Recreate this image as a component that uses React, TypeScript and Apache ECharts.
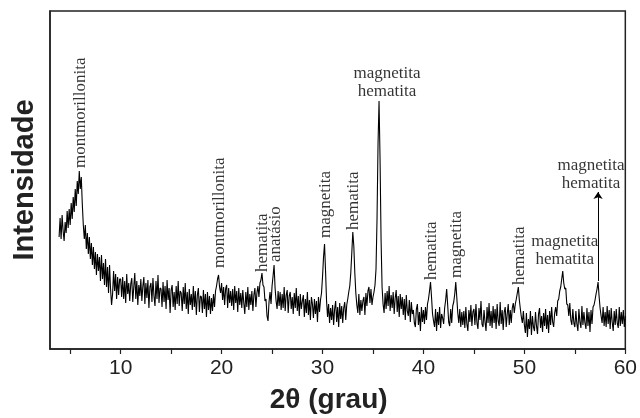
import React, { useEffect, useRef } from "react";
import * as echarts from "echarts";

// Sampling step of the diffractogram (degrees 2θ)
const STEP = 0.1;

// Intensity (arbitrary units), one array per decade
const start04 = 3.9;
const intensity04 = [
  112, 131, 110, 134, 118, 108, 127, 116, 138, 121,
  140, 124, 146, 130, 152, 137, 160, 143, 168, 155,
  178, 160, 172, 145, 124, 110, 124, 100, 116, 95,
  112, 90, 106, 84, 102, 80, 97, 74, 95, 78,
  92, 68, 94, 70, 86, 64, 90, 62, 82, 56,
  84, 60, 44, 55, 78, 58, 75, 50, 72, 54,
  70,
];
const start10 = 10;
const intensity10 = [
  70, 52, 72, 50, 68, 46, 75, 55, 66, 48,
  65, 71, 47, 62, 76, 50, 68, 44, 64, 53,
  70, 48, 63, 72, 45, 66, 51, 69, 41, 62,
  66, 47, 71, 53, 43, 68, 50, 74, 46, 61,
  60, 42, 67, 47, 63, 40, 69, 49, 61, 36,
  59, 64, 42, 57, 39, 63, 45, 68, 43, 58,
  56, 38, 62, 45, 66, 40, 57, 35, 60, 44,
  55, 39, 63, 42, 58, 34, 54, 61, 37, 53,
  52, 36, 59, 40, 55, 32, 57, 39, 53, 35,
  51, 38, 55, 42, 58, 63, 70, 74, 62, 56,
];
const start20 = 20;
const intensity20 = [
  66, 49, 62, 44, 60, 64, 41, 61, 46, 58,
  43, 60, 39, 63, 46, 58, 37, 61, 44, 56,
  41, 59, 46, 35, 57, 42, 62, 39, 55, 44,
  58, 38, 54, 61, 42, 56, 63, 52, 66, 69,
  76, 64, 62, 48, 50, 33, 28, 47, 57, 45,
  63, 73, 84, 61, 48, 40, 58, 43, 57, 39,
  55, 41, 62, 38, 54, 59, 36, 53, 57, 40,
  52, 35, 56, 41, 61, 38, 53, 33, 55, 40,
  48, 54, 32, 50, 36, 57, 34, 49, 29, 52,
  45, 31, 50, 35, 48, 27, 52, 37, 49, 56,
];
const start30 = 30;
const intensity30 = [
  72, 92, 105, 78, 48, 32, 45, 26, 41, 29,
  44, 24, 40, 48, 27, 42, 22, 46, 30, 43,
  26, 41, 47, 29, 44, 50, 57, 63, 76, 96,
  117, 103, 76, 56, 44, 36, 55, 34, 49, 38,
  48, 52, 34, 56, 43, 58, 62, 46, 60, 44,
  52, 57, 64, 80, 130, 205, 248, 190, 110, 62,
  45, 36, 56, 40, 58, 43, 63, 38, 54, 41,
  57, 35, 51, 59, 37, 53, 32, 55, 40, 52,
  34, 50, 29, 54, 38, 33, 49, 27, 47, 35,
  39, 26, 22, 40, 45, 24, 37, 18, 42, 27,
];
const start40 = 40;
const intensity40 = [
  39, 25, 42, 29, 45, 50, 58, 67, 52, 35,
  28, 22, 40, 18, 37, 24, 42, 21, 35, 31,
  25, 41, 49, 60, 44, 27, 23, 40, 26, 43,
  47, 55, 67, 52, 36, 26, 40, 22, 37, 24,
  38, 21, 42, 25, 18, 39, 27, 44, 23, 37,
  40, 24, 45, 26, 20, 41, 29, 48, 25, 22,
  39, 27, 18, 42, 26, 46, 23, 38, 21, 43,
  26, 40, 20, 45, 28, 23, 47, 25, 39, 19,
  37, 42, 22, 35, 45, 24, 39, 26, 41, 46,
  36, 45, 50, 56, 62, 49, 40, 32, 26, 38,
];
const start50 = 50;
const intensity50 = [
  24, 16, 36, 12, 30, 20, 38, 14, 33, 22,
  18, 37, 23, 15, 35, 41, 21, 33, 17, 36,
  23, 40, 20, 34, 16, 38, 24, 42, 27, 22,
  36, 42, 33, 48, 50, 58, 62, 70, 78, 66,
  60, 61, 45, 44, 33, 46, 29, 24, 40, 26,
  22, 38, 25, 18, 40, 27, 21, 43, 24, 37,
  26, 20, 41, 23, 37, 17, 39, 25, 42, 44,
  49, 55, 60, 67, 53, 41, 33, 26, 42, 23,
  37, 22, 43, 25, 39, 20, 41, 27, 18, 38,
  24, 40, 26, 21, 42, 23, 37, 25, 39, 22,
  33,
];

// Axis ticks and labels
const xTicks = [5, 10, 15, 20, 25, 30, 35, 40, 45, 50, 55, 60];
const xLabels = [10, 20, 30, 40, 50, 60];

// Phase annotations: position (2θ), intensity where the text starts, text, vertical?
const annotationX = [5.9, 19.7, 24.0, 25.2, 30.2, 33.0, 40.7, 43.2, 49.4, 35.6, 53.8, 57.3];
const annotationY = [181, 81, 77, 87, 111, 119, 69, 71, 64, 250, 82, 158];
const annotationText = [
  "montmorillonita",
  "montmorillonita",
  "hematita",
  "anatásio",
  "magnetita",
  "hematita",
  "hematita",
  "magnetita",
  "hematita",
  "magnetita\nhematita",
  "magnetita\nhematita",
  "magnetita\nhematita",
];
const annotationVertical = [true, true, true, true, true, true, true, true, true, false, false, false];
const annotationShift = [0, 0, 0, 0, 0, 0, 0, 0, 0, 8, 2, -7];

// Arrow from the 57.3° peak up to its label
const arrowX = 57.3;
const arrowFrom = 68;
const arrowTo = 157;

export default function App() {
  const ref = useRef<HTMLDivElement>(null);
  useEffect(() => {
    const chart = echarts.init(ref.current!, null, { renderer: "svg" });
    const segments: [number, number[]][] = [
      [start04, intensity04],
      [start10, intensity10],
      [start20, intensity20],
      [start30, intensity30],
      [start40, intensity40],
      [start50, intensity50],
    ];
    const data: number[][] = [];
    segments.forEach(([s, arr]) =>
      arr.forEach((v, i) => data.push([Math.round((s + i * STEP) * 10) / 10, v]))
    );
    const axisColor = "#222";
    const sans = "'Liberation Sans', Arial, Helvetica, sans-serif";
    const serif = "'Liberation Serif', 'Times New Roman', serif";
    const annData = annotationX.map((x, i) => ({
      value: [x, annotationY[i]],
      name: annotationText[i],
      label: annotationVertical[i]
        ? { position: [0, 0], rotate: 90, align: "left", verticalAlign: "middle" }
        : {
            position: [0, 0],
            rotate: 0,
            align: "center",
            verticalAlign: "bottom",
            offset: [annotationShift[i], 0],
            lineHeight: 18,
          },
    }));
    chart.setOption({
      animation: false,
      grid: {
        left: 47,
        right: 12,
        top: 11,
        bottom: 69,
        show: true,
        borderColor: axisColor,
        borderWidth: 1.5,
      },
      xAxis: {
        type: "value",
        min: 3,
        max: 60,
        name: "2θ (grau)",
        nameLocation: "middle",
        nameGap: 35,
        nameTextStyle: {
          fontFamily: sans,
          fontSize: 28,
          fontWeight: "bold",
          color: axisColor,
          padding: [0, 18, 0, 0],
        },
        axisLine: { show: true, onZero: false, lineStyle: { color: axisColor, width: 1.5 } },
        axisTick: {
          show: true,
          customValues: xTicks,
          length: 5,
          inside: false,
          lineStyle: { color: axisColor, width: 1.2 },
        },
        axisLabel: {
          customValues: xLabels,
          fontFamily: sans,
          fontSize: 21,
          color: axisColor,
          margin: 7,
        },
        splitLine: { show: false },
      },
      yAxis: {
        type: "value",
        min: 0,
        max: 338,
        name: "Intensidade",
        nameLocation: "middle",
        nameGap: 13,
        nameTextStyle: {
          fontFamily: sans,
          fontSize: 29,
          fontWeight: "bold",
          color: axisColor,
        },
        axisLine: { show: true, lineStyle: { color: axisColor, width: 1.5 } },
        axisTick: { show: false },
        axisLabel: { show: false },
        splitLine: { show: false },
      },
      series: [
        {
          type: "line",
          data,
          showSymbol: false,
          symbol: "none",
          silent: true,
          lineStyle: { color: "#000", width: 1.1 },
          markLine: {
            silent: true,
            symbol: ["none", "arrow"],
            symbolSize: 7,
            label: { show: false },
            lineStyle: { color: "#000", width: 1, type: "solid" },
            data: [[{ coord: [arrowX, arrowFrom] }, { coord: [arrowX, arrowTo] }]],
          },
        },
        {
          type: "scatter",
          data: annData,
          symbolSize: 0,
          silent: true,
          label: {
            show: true,
            formatter: "{b}",
            fontFamily: serif,
            fontSize: 17,
            color: "#000",
          },
        },
      ],
    });
    return () => chart.dispose();
  }, []);
  return (
    <div
      ref={ref}
      style={{ position: "fixed", left: 0, top: 0, width: 640, height: 418 }}
    />
  );
}
